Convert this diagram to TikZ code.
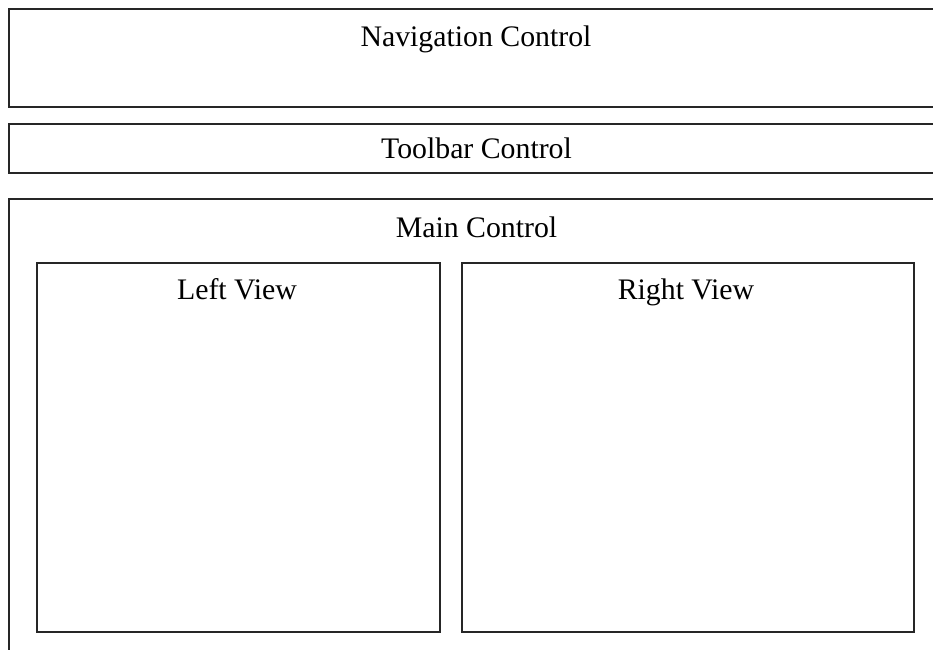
\documentclass[tikz,border=0pt]{standalone}
\usepackage{fontspec}
\setmainfont{Liberation Serif}
\begin{document}
\begin{tikzpicture}[x=1pt,y=-1pt,
  panel/.style={draw=black!85,line width=1.4pt,rectangle,inner sep=0pt},
  caption/.style={anchor=base,inner sep=0pt,font=\fontsize{29.8}{36}\selectfont}]
\useasboundingbox (0,0) rectangle (933,649);
\clip (0,0) rectangle (933,649);
% outer panels (they run past the right and bottom edges)
\node[panel,minimum width=936pt,minimum height=98pt] (nav) at (477,58) {};
\node[panel,minimum width=936pt,minimum height=49pt] (toolbar) at (477,148.5) {};
\node[panel,minimum width=936pt,minimum height=461pt] (main) at (477,429.5) {};
% inner views
\node[panel,minimum width=403pt,minimum height=369pt] (left) at (238.5,447.5) {};
\node[panel,minimum width=452pt,minimum height=369pt] (right) at (688,447.5) {};
% captions
\node[caption] (navtext) at (476,46) {Navigation Control};
\node[caption] (tooltext) at (476.5,158) {Toolbar Control};
\node[caption] (maintext) at (476.5,237) {Main Control};
\node[caption] (lefttext) at (237,299) {Left View};
\node[caption] (righttext) at (686,299) {Right View};
\end{tikzpicture}
\end{document}
